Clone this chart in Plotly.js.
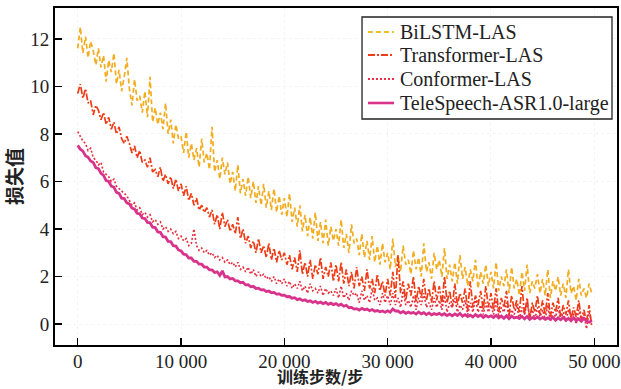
<!DOCTYPE html>
<html>
<head>
<meta charset="utf-8">
<script src="https://cdn.plot.ly/plotly-3.0.1.min.js"></script>
<style>html,body{margin:0;padding:0;background:#fff}#chart{width:621px;height:389px}</style>
</head>
<body>
<div id="chart"></div>
<script>
// training step spacing (x categories)
var stepSize = 250;
var seriesNames = ["BiLSTM-LAS", "Transformer-LAS", "Conformer-LAS", "TeleSpeech-ASR1.0-large"];
var xTickVals = [0, 10000, 20000, 30000, 40000, 50000];
var xTickText = ["0", "10 000", "20 000", "30 000", "40 000", "50 000"];
var yTickVals = [0, 2, 4, 6, 8, 10, 12];
var xTitle = "训练步数/步";
var yTitle = "损失值";

var bilstm = [
11.6, 12.5, 11.4, 12.1, 11.2, 11.9, 11.5, 10.9, 11.6, 10.8, 11.3, 10.2, 11.1, 10.6, 11.4, 10.1, 10.7, 9.8, 10.4, 11.2,
9.9, 9.2, 10.3, 9.4, 9.6, 8.9, 9.8, 8.7, 10.4, 8.5, 9.1, 8.4, 8.9, 8.2, 9.3, 8.0, 8.6, 7.6, 8.4, 7.8,
7.9, 7.2, 8.1, 7.0, 7.6, 6.9, 7.4, 6.6, 7.8, 6.8, 7.2, 6.5, 8.3, 6.4, 6.9, 6.1, 7.0, 6.3, 6.8, 5.9,
6.4, 5.6, 6.7, 5.5, 6.1, 5.4, 6.2, 5.3, 6.0, 5.1, 5.8, 5.0, 5.9, 4.9, 5.6, 4.8, 5.7, 4.7, 5.4, 4.6,
5.3, 4.5, 5.5, 4.3, 4.9, 4.1, 5.0, 3.9, 4.6, 3.7, 4.5, 3.6, 4.7, 3.5, 4.3, 3.4, 4.4, 3.3, 4.1, 3.5,
4.0, 3.3, 4.4, 3.2, 3.8, 3.0, 4.2, 3.4, 3.6, 2.9, 3.8, 2.8, 3.5, 2.7, 3.7, 2.6, 3.3, 2.5, 3.4, 2.6,
3.0, 2.3, 3.6, 2.4, 2.9, 2.2, 3.3, 2.5, 2.7, 2.1, 3.1, 2.3, 2.8, 2.0, 3.4, 2.2, 2.6, 1.9, 3.0, 2.3,
2.7, 2.0, 3.2, 1.9, 2.5, 1.8, 2.6, 1.7, 2.9, 1.9, 2.4, 1.6, 2.3, 1.8, 2.7, 1.5, 2.2, 1.7, 2.5, 1.6,
2.2, 1.5, 2.6, 1.4, 2.0, 1.6, 2.3, 1.3, 2.4, 1.5, 1.9, 1.2, 2.2, 1.4, 2.5, 1.3, 1.8, 1.5, 2.1, 1.3,
1.9, 1.2, 2.3, 1.1, 1.8, 1.4, 2.0, 1.2, 1.7, 1.1, 2.3, 1.3, 1.6, 1.0, 1.9, 1.2, 1.5, 1.1, 1.7, 1.3
];
var transformer = [
9.7, 10.1, 9.5, 9.9, 9.3, 9.4, 8.8, 9.2, 9.0, 8.6, 8.9, 8.4, 8.7, 8.2, 8.5, 8.0, 8.3, 7.8, 7.6, 7.9,
7.6, 7.2, 7.5, 7.0, 7.3, 6.8, 6.9, 6.6, 7.0, 6.4, 6.5, 6.2, 6.6, 6.0, 6.3, 5.9, 6.2, 5.7, 6.1, 5.6,
5.9, 5.4, 5.8, 5.2, 5.5, 5.0, 5.3, 4.8, 5.0, 4.7, 4.9, 4.5, 4.8, 4.2, 4.6, 4.0, 4.7, 4.1, 4.4, 3.9,
4.2, 3.8, 4.5, 3.6, 4.0, 3.4, 3.7, 3.2, 3.5, 3.0, 3.6, 3.0, 3.3, 2.8, 3.4, 2.7, 3.2, 2.6, 3.1, 2.7,
3.0, 2.5, 2.9, 2.3, 2.8, 2.2, 3.1, 2.1, 2.6, 2.0, 2.7, 1.9, 2.5, 2.1, 2.8, 1.9, 2.4, 2.0, 2.6, 1.8,
2.5, 1.8, 2.6, 1.7, 2.3, 1.6, 2.2, 1.5, 2.4, 1.6, 2.0, 1.4, 2.3, 1.5, 1.9, 1.3, 2.1, 1.4, 1.8, 1.2,
1.9, 1.2, 2.2, 1.1, 2.9, 1.3, 1.8, 1.0, 1.7, 1.2, 2.0, 0.9, 1.6, 1.1, 1.9, 1.0, 1.5, 0.9, 1.8, 1.0,
1.6, 0.8, 2.0, 0.9, 1.4, 0.7, 1.7, 0.8, 1.3, 0.9, 1.5, 0.6, 1.8, 0.7, 1.2, 0.8, 1.4, 0.6, 1.6, 0.7,
1.3, 0.6, 1.5, 0.5, 1.1, 0.7, 1.4, 0.4, 1.2, 0.6, 1.0, 0.5, 1.6, 0.4, 1.1, 0.2, 0.9, 0.5, 1.2, 0.4,
1.0, 0.4, 1.3, 0.3, 0.9, 0.5, 1.1, 0.3, 0.8, 0.4, 1.0, 0.2, 0.7, 0.3, 1.0, 0.2, 0.6, 0.1, 0.8, -0.1
];
var conformer = [
8.1, 7.9, 7.7, 7.6, 7.3, 7.4, 7.0, 6.9, 6.7, 6.8, 6.4, 6.3, 6.2, 6.0, 6.1, 5.8, 5.7, 5.6, 5.5, 5.4,
5.2, 5.0, 5.1, 4.8, 4.9, 4.6, 4.7, 4.5, 4.6, 4.3, 4.4, 4.2, 4.3, 4.0, 4.1, 3.9, 4.0, 3.8, 3.9, 3.6,
3.7, 3.5, 3.6, 3.3, 3.4, 4.0, 3.3, 3.1, 3.2, 3.0, 3.1, 2.9, 3.0, 2.8, 2.9, 2.7, 2.8, 2.6, 2.7, 2.5,
2.6, 2.4, 2.6, 2.3, 2.4, 2.2, 2.4, 2.1, 2.3, 2.0, 2.2, 2.0, 2.1, 1.9, 2.0, 1.8, 2.0, 1.7, 1.9, 1.7,
1.9, 1.6, 1.8, 1.5, 1.7, 1.5, 1.8, 1.4, 1.6, 1.3, 1.7, 1.4, 1.5, 1.3, 1.6, 1.2, 1.5, 1.3, 1.4, 1.2,
1.5, 1.1, 1.6, 1.1, 1.3, 1.0, 1.4, 1.2, 1.3, 0.9, 1.4, 1.0, 1.2, 0.9, 1.5, 1.0, 1.1, 0.8, 1.3, 0.9,
1.2, 0.8, 1.3, 0.8, 1.1, 0.7, 1.4, 0.8, 1.0, 0.7, 1.2, 0.6, 1.1, 0.8, 1.3, 0.7, 0.9, 0.6, 1.1, 0.7,
1.0, 0.6, 1.2, 0.5, 0.9, 0.7, 1.1, 0.5, 0.8, 0.6, 1.0, 0.4, 0.9, 0.5, 1.1, 0.5, 0.8, 0.4, 0.9, 0.5,
0.8, 0.4, 1.0, 0.3, 0.7, 0.5, 0.9, 0.3, 0.6, 0.4, 0.8, 0.2, 0.7, 0.4, 0.9, 0.3, 0.6, 0.2, 0.7, 0.3,
0.6, 0.2, 0.8, 0.1, 0.5, 0.3, 0.7, 0.2, 0.5, 0.1, 0.6, 0.3, 0.4, 0.0, 0.6, 0.2, 0.4, -0.2, 0.5, 0.1
];
var telespeech = [
7.52, 7.36, 7.28, 7.08, 7.02, 6.86, 6.80, 6.58, 6.54, 6.34, 6.26, 6.04, 6.00, 5.80, 5.76, 5.54, 5.50, 5.30, 5.28, 5.10,
5.06, 4.88, 4.84, 4.66, 4.64, 4.46, 4.44, 4.28, 4.26, 4.08, 4.06, 3.88, 3.86, 3.68, 3.66, 3.48, 3.47, 3.30, 3.28, 3.12,
3.08, 2.94, 2.92, 2.78, 2.78, 2.64, 2.64, 2.52, 2.52, 2.40, 2.40, 2.28, 2.28, 2.17, 2.20, 2.05, 2.24, 1.98, 2.00, 1.90,
1.92, 1.82, 1.82, 1.74, 1.76, 1.65, 1.66, 1.57, 1.59, 1.50, 1.51, 1.44, 1.45, 1.37, 1.39, 1.32, 1.33, 1.26, 1.27, 1.21,
1.22, 1.15, 1.16, 1.09, 1.11, 1.03, 1.06, 0.99, 1.02, 0.95, 0.98, 0.91, 0.96, 0.88, 0.93, 0.86, 0.91, 0.83, 0.88, 0.82,
0.86, 0.79, 0.84, 0.75, 0.79, 0.69, 0.70, 0.63, 0.65, 0.59, 0.66, 0.60, 0.63, 0.56, 0.61, 0.54, 0.57, 0.52, 0.55, 0.50,
0.56, 0.50, 0.64, 0.55, 0.55, 0.47, 0.53, 0.45, 0.51, 0.46, 0.49, 0.42, 0.51, 0.43, 0.48, 0.40, 0.47, 0.39, 0.44, 0.40,
0.45, 0.38, 0.44, 0.36, 0.42, 0.35, 0.43, 0.36, 0.45, 0.33, 0.40, 0.32, 0.38, 0.30, 0.40, 0.32, 0.38, 0.28, 0.36, 0.30,
0.35, 0.28, 0.37, 0.26, 0.34, 0.24, 0.35, 0.23, 0.34, 0.26, 0.29, 0.24, 0.32, 0.22, 0.32, 0.20, 0.27, 0.23, 0.30, 0.21,
0.28, 0.20, 0.26, 0.21, 0.28, 0.16, 0.26, 0.18, 0.28, 0.16, 0.24, 0.14, 0.26, 0.15, 0.22, 0.12, 0.24, 0.13, 0.08, 0.14
];

var steps = bilstm.map(function(_, i){ return i * stepSize; });

var styles = [
  {color: '#f2ac1e', dash: '5px,3px', width: 1.7},
  {color: '#f03c16', dash: '7px,2px,2px,2px', width: 1.7},
  {color: '#e82c3c', dash: '2px,2px', width: 1.6},
  {color: '#d8338a', dash: 'solid', width: 2.8}
];
var legendColors = ['#f0c02a', '#f03c16', '#e82c44', '#d8338a'];
var allSeries = [bilstm, transformer, conformer, telespeech];
var traces = allSeries.map(function(ys, k){
  return {x: steps, y: ys, type: 'scatter', mode: 'lines', name: seriesNames[k],
          line: styles[k], showlegend: false};
});

var serif = 'Liberation Serif';

// hand-placed legend box (paper coordinates of the plot area)
var lgX0 = 0.5463, lgX1 = 0.9911, lgYTop = 0.9733, lgYBot = 0.6706;
var lgRows = [0.9288, 0.8605, 0.7893, 0.7181];
var shapes = [{type: 'rect', xref: 'paper', yref: 'paper', x0: lgX0, x1: lgX1, y0: lgYBot, y1: lgYTop,
               line: {color: '#222', width: 1.3}, fillcolor: '#fff', layer: 'above'}];
var annotations = [];
seriesNames.forEach(function(nm, k){
  shapes.push({type: 'line', xref: 'paper', yref: 'paper', x0: 0.5569, x1: 0.6032,
               y0: lgRows[k], y1: lgRows[k], layer: 'above',
               line: {color: legendColors[k], width: k === 3 ? 2.6 : 1.8, dash: styles[k].dash}});
  annotations.push({xref: 'paper', yref: 'paper', x: 0.6103, y: lgRows[k], xanchor: 'left', yanchor: 'middle',
                    text: nm, showarrow: false, font: {family: serif, size: 20, color: '#222'}});
});
annotations.push({xref: 'paper', yref: 'paper', x: 0.4715, y: -0.1306, xanchor: 'center', yanchor: 'bottom',
                  text: xTitle, showarrow: false, borderpad: 0,
                  font: {family: 'Noto Sans CJK SC', size: 16, color: '#222', weight: 'bold'}});

var layout = {
  width: 621, height: 389,
  margin: {l: 55, r: 4, t: 8, b: 44},
  paper_bgcolor: '#fff', plot_bgcolor: '#fff',
  showlegend: false,
  shapes: shapes,
  annotations: annotations,
  xaxis: {range: [-2200, 52200], tickvals: xTickVals, ticktext: xTickText,
          ticks: 'inside', ticklen: 7, tickwidth: 1.5, tickcolor: '#000',
          showline: true, linecolor: '#000', linewidth: 2, mirror: true,
          showgrid: true, gridcolor: '#f4f4f4', griddash: 'dot', zeroline: false,
          ticklabelstandoff: -2,
          tickfont: {family: serif, size: 19, color: '#222'}},
  yaxis: {range: [-0.88, 13.3], tickvals: yTickVals,
          ticks: 'inside', ticklen: 7, tickwidth: 1.5, tickcolor: '#000',
          showline: true, linecolor: '#000', linewidth: 2, mirror: true,
          showgrid: true, gridcolor: '#f4f4f4', griddash: 'dot', zeroline: false,
          tickfont: {family: serif, size: 19, color: '#222'},
          title: {text: yTitle, standoff: 5,
                  font: {family: 'Noto Sans CJK SC', size: 19, color: '#222', weight: 'bold'}}}
};
Plotly.newPlot('chart', traces, layout, {displayModeBar: false, staticPlot: true});
</script>
</body>
</html>
